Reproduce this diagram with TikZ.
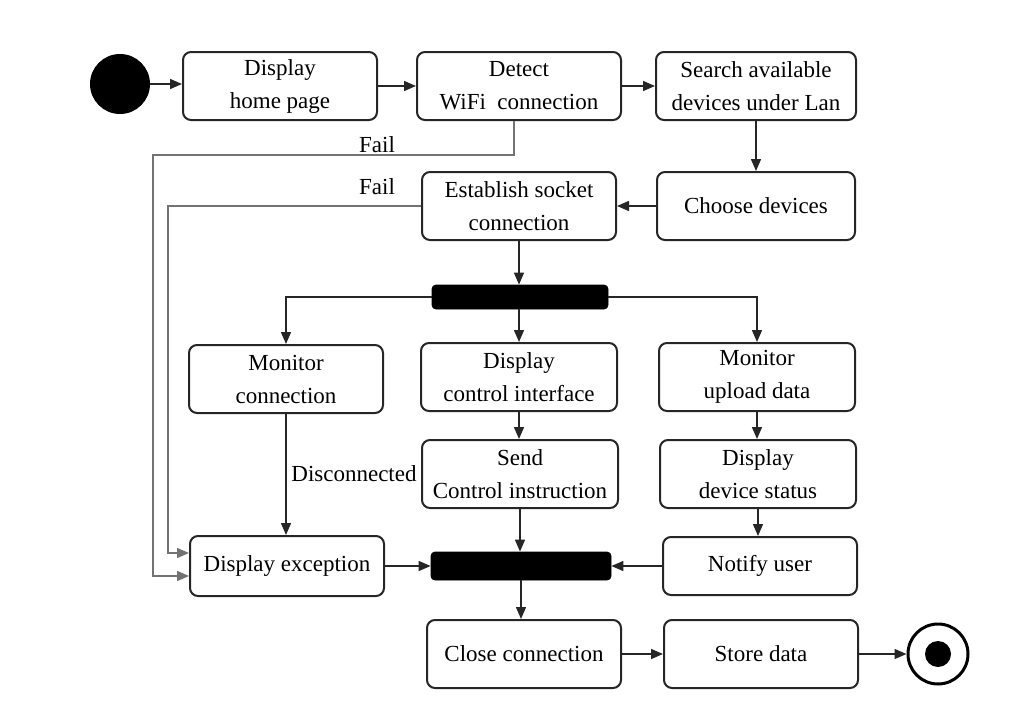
\documentclass[tikz,border=0pt]{standalone}
\usepackage{fontspec}
\setmainfont{Liberation Serif}
\usetikzlibrary{arrows.meta,positioning}

\begin{document}
\begin{tikzpicture}[x=0.5pt,y=-0.5pt,
        act/.style={rectangle,rounded corners=4pt,draw=black!85,line width=1pt,
                   align=center,minimum width=97pt,minimum height=34pt,
                   inner sep=2pt,font=\fontsize{11.5}{16.5}\selectfont},
        bar/.style={rectangle,rounded corners=2pt,fill=black,draw=black,
                   minimum width=88pt,minimum height=12pt,inner sep=0pt},
        arr/.style={draw=black!85,line width=0.75pt,
                   -{Triangle[length=6pt,width=5pt]}},
        fl/.style={draw=black!55,line width=0.75pt,
                   -{Triangle[length=6pt,width=5pt]}},
        lbl/.style={font=\fontsize{11.5}{16.5}\selectfont,inner sep=1pt}
      ]
        \useasboundingbox (0,0) rectangle (1024,702);
        \node[circle,fill=black,minimum size=30pt,inner sep=0pt] (start) at (120,84) {};
        \node[act] (home) at (280,86) {Display\\home page};
        \node[act,minimum width=102pt] (wifi) at (519,86) {Detect\\WiFi~ connection};
        \node[act,minimum width=100pt] (search) at (756,86) {Search available\\devices under Lan};
        \node[act,minimum width=99pt] (choose) at (756,206) {Choose devices};
        \node[act] (sock) at (519,206) {Establish socket\\connection};
        \node[bar] (bar1) at (520,297) {};
        \node[act] (mconn) at (286,379) {Monitor\\connection};
        \node[act,minimum width=98pt] (ctrl) at (519,377) {Display\\control interface};
        \node[act,minimum width=98pt] (mup) at (757,377) {Monitor\\upload data};
        \node[act,minimum width=98pt] (send) at (520,474) {Send\\Control instruction};
        \node[act,minimum width=98pt] (stat) at (758,474) {Display\\device status};
        \node[act,minimum height=30pt] (exc) at (287,566) {Display exception};
        \node[bar,minimum width=90pt,minimum height=14pt] (bar2) at (521,566) {};
        \node[act,minimum height=29pt] (notify) at (760,566) {Notify user};
        \node[act] (close) at (524,654) {Close connection};
        \node[act] (store) at (761,654) {Store data};
        \node[circle,draw=black,line width=1.5pt,minimum size=30pt,inner sep=0pt] (stop) at (938,654) {};
        \node[circle,fill=black,minimum size=13pt,inner sep=0pt] at (stop) {};
        % main flow
        \draw[arr] (start) -- (start -| home.west);
        \draw[arr] (home) -- (wifi);
        \draw[arr] (wifi) -- (search);
        \draw[arr] (search) -- (choose);
        \draw[arr] (choose) -- (sock);
        \draw[arr] (sock.south) -- (sock.south |- bar1.north);
        \draw[arr] (bar1.west) -| (mconn.north);
        \draw[arr] (ctrl.north |- bar1.south) -- (ctrl.north);
        \draw[arr] (bar1.east) -| (mup.north);
        \draw[arr] (ctrl) -- (send.north -| ctrl);
        \draw[arr] (mup.south) -- (mup.south |- stat.north);
        \draw[arr] (stat.south) -- (stat.south |- notify.north);
        \draw[arr] (mconn) -- (exc.north -| mconn);
        \node[lbl,anchor=west] at (289,474) {Disconnected};
        \draw[arr] (send.south) -- (send.south |- bar2.north);
        \draw[arr] (exc) -- (bar2);
        \draw[arr] (notify) -- (bar2);
        \draw[arr] (bar2.south) -- (bar2.south |- close.north);
        \draw[arr] (close) -- (store);
        \draw[arr] (store) -- (stop);
        % failure paths
        \coordinate (f1) at (153,155);
        \coordinate (f2) at (168,206);
        \draw[fl] ([xshift=-2.5pt]wifi.south) |- (f1) |- ([yshift=-5pt]exc.west);
        \node[lbl] at (377,145) {Fail};
        \draw[fl] (sock.west) -- (f2) |- ([yshift=6.5pt]exc.west);
        \node[lbl] at (377,187) {Fail};
      \end{tikzpicture}
\end{document}
